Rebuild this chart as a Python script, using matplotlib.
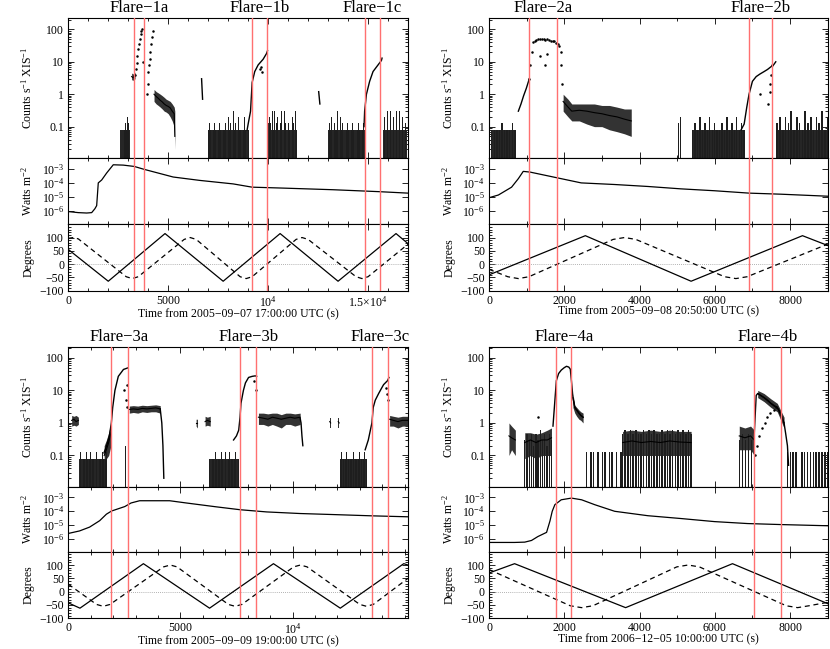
import numpy as np
import matplotlib
matplotlib.use("Agg")
import matplotlib.pyplot as plt
from matplotlib.ticker import FixedLocator, FixedFormatter, MultipleLocator, LogLocator, NullFormatter
import matplotlib.transforms as mtransforms

plt.rcParams['font.family'] = ['Liberation Serif', 'DejaVu Serif']
plt.rcParams['mathtext.fontset'] = 'custom'
plt.rcParams['mathtext.rm'] = 'Liberation Serif'
plt.rcParams['mathtext.it'] = 'Liberation Serif:italic'
plt.rcParams['mathtext.bf'] = 'Liberation Serif:bold'
plt.rcParams['axes.unicode_minus'] = True

# ---------------- Quadrant 1 ----------------
q1_xmax = 17000
q1_xlabel = "Time from 2005\u221209\u221207 17:00:00 UTC (s)"
q1_xticks = [0, 5000, 10000, 15000]
q1_xticklabels = ["0", "5000", "10$^4$", "1.5\u00d710$^4$"]
q1_flare_lines = [3300, 3800, 9200, 9920, 14870, 15580]
q1_flare_names = ["Flare\u22121a", "Flare\u22121b", "Flare\u22121c"]
q1_bg_start = [2580, 7000, 10000, 13000, 15750]
q1_bg_end = [3080, 9000, 11420, 14830, 16950]
q1_bg_base = [0.08, 0.08, 0.08, 0.08, 0.08]
q1_bg_levels = ["1111121321", "121312141213112131214121311213121",
                "2324142312414232143241", "1213121141312131214121311213121",
                "23142413241423124"]
q1_curve_t = [[6670, 6720], [12530, 12590],
              [8950, 9000, 9120, 9200, 9330, 9500, 9750, 9920, 9970],
              [14800, 14830, 14920, 15080, 15250, 15500, 15670, 15700]]
q1_curve_c = [[3.0, 0.7], [1.2, 0.5],
              [0.08, 0.12, 0.3, 2.3, 5, 8, 12, 18, 22],
              [0.1, 0.3, 1, 2.5, 5, 8, 11, 13]]
q1_dot_t = [3340, 3380, 3420, 3460, 3500, 3540, 3580, 3620, 3660, 3700, 3750,
            3950, 3965, 3990, 4030, 4070, 4110, 4150, 4190, 4220, 9600, 9650, 9700]
q1_dot_c = [4, 6, 9, 15, 25, 35, 50, 70, 90, 100, 10,
            1, 2, 5, 8, 12, 20, 35, 60, 90, 6, 7, 5]
q1_band_t = [[3170, 3250, 3340],
             [4290, 4400, 4500, 4600, 4700, 4800, 4900, 5000, 5100, 5200, 5300, 5330]]
q1_band_mid = [[3.5, 3.2, 4.0],
               [1.0, 0.85, 0.75, 0.65, 0.58, 0.5, 0.45, 0.42, 0.38, 0.3, 0.25, 0.05]]
q1_band_lo = [[2.8, 2.7, 3.0],
              [0.6, 0.5, 0.45, 0.4, 0.35, 0.3, 0.28, 0.25, 0.2, 0.15, 0.1, 0.02]]
q1_band_hi = [[4.5, 4.2, 4.8],
              [1.4, 1.2, 1.1, 1.0, 0.9, 0.8, 0.7, 0.65, 0.6, 0.5, 0.4, 0.3]]
q1_w_t = [0, 500, 920, 1170, 1330, 1420, 1500, 1670, 1920, 2250, 2750, 3300, 3800,
          5250, 6580, 8250, 9200, 10750, 13250, 15580, 17000]
q1_w_v = [9.5e-7, 8e-7, 7.5e-7, 8e-7, 1.5e-6, 2.5e-6, 1e-4, 1.6e-4, 5e-4, 1.9e-3, 1.8e-3,
          1.45e-3, 9e-4, 2.6e-4, 1.5e-4, 8.5e-5, 5e-5, 4.3e-5, 3.3e-5, 2.4e-5, 1.9e-5]
q1_sol_t = [0, 2000, 4840, 7750, 10600, 13500, 16400, 17000]
q1_sol_v = [55, -65, 115, -65, 115, -65, 115, 77]
q1_das_t = [0, 250, 500, 2900, 3200, 3500, 5800, 6100, 6400, 8600, 8900, 9200,
            11400, 11700, 12000, 14400, 14700, 15000, 17000]
q1_das_v = [97, 100, 95, -48, -55, -48, 93, 100, 93, -48, -55, -48,
            93, 100, 93, -48, -55, -48, 75]

# ---------------- Quadrant 2 ----------------
q2_xmax = 9000
q2_xlabel = "Time from 2005\u221209\u221208 20:50:00 UTC (s)"
q2_xticks = [0, 2000, 4000, 6000, 8000]
q2_xticklabels = ["0", "2000", "4000", "6000", "8000"]
q2_flare_lines = [1070, 1820, 6910, 7530]
q2_flare_names = ["Flare\u22122a", "Flare\u22122b"]
q2_bg_start = [70, 5030, 5410, 7660]
q2_bg_end = [690, 5090, 6780, 9000]
q2_bg_base = [0.08, 0.0, 0.08, 0.08]
q2_bg_levels = ["1111211121", "23", "1213121312112131213121", "2313241321423132413"]
q2_curve_t = [[780, 850, 920, 990, 1050, 1070],
              [6700, 6780, 6850, 6910, 7000, 7100, 7200, 7310, 7400, 7490, 7560, 7620]]
q2_curve_c = [[0.3, 0.5, 0.9, 1.5, 2.5, 3],
              [0.08, 0.12, 0.4, 1.0, 2.5, 3.5, 4.2, 5, 5.8, 7, 8, 10]]
q2_dot_t = [1070, 1100, 1130, 1170, 1210, 1250, 1300, 1350, 1400, 1450, 1500, 1550, 1600,
            1650, 1700, 1740, 1790, 1830, 1870, 1900, 1920, 1940, 1350, 1500, 1550,
            7200, 7420, 7460, 7480, 7500, 7520]
q2_dot_c = [3, 8, 20, 40, 45, 48, 50, 50, 52, 50, 48, 50, 47,
            45, 45, 43, 38, 35, 30, 20, 8, 2, 15, 8, 17,
            1.0, 0.5, 1.2, 2, 4, 8]
q2_band_t = [[1970, 2100, 2200, 2400, 2600, 2800, 3000, 3200, 3400, 3600, 3780]]
q2_band_mid = [[0.6, 0.4, 0.3, 0.32, 0.3, 0.27, 0.25, 0.22, 0.2, 0.17, 0.15]]
q2_band_lo = [[0.3, 0.2, 0.15, 0.15, 0.12, 0.1, 0.1, 0.08, 0.07, 0.06, 0.05]]
q2_band_hi = [[1.0, 0.7, 0.5, 0.5, 0.5, 0.5, 0.45, 0.45, 0.4, 0.35, 0.35]]
q2_w_t = [0, 250, 600, 780, 910, 1090, 1840, 2450, 3340, 4220, 5100, 5990, 6910, 7750, 9000]
q2_w_v = [9e-6, 1.4e-5, 5e-5, 2e-4, 6.5e-4, 5.8e-4, 2.2e-4, 1.0e-4, 7.7e-5, 5.6e-5,
          3.8e-5, 2.8e-5, 1.9e-5, 1.6e-5, 1.15e-5]
q2_sol_t = [0, 2560, 5370, 8330, 9000]
q2_sol_v = [-41, 107, -65, 107, 70]
q2_das_t = [0, 500, 780, 1060, 3300, 3600, 3900, 6260, 6560, 6860, 9000]
q2_das_v = [-20, -48, -55, -48, 93, 100, 93, -48, -55, -48, 75]

# ---------------- Quadrant 3 ----------------
q3_xmax = 15150
q3_xlabel = "Time from 2005\u221209\u221209 19:00:00 UTC (s)"
q3_xticks = [0, 5000, 10000]
q3_xticklabels = ["0", "5000", "10$^4$"]
q3_flare_lines = [1920, 2650, 7660, 8380, 13540, 14240]
q3_flare_names = ["Flare\u22123a", "Flare\u22123b", "Flare\u22123c"]
q3_bg_start = [480, 2560, 6300, 12130]
q3_bg_end = [1710, 2600, 7590, 13300]
q3_bg_base = [0.08, 0.0, 0.08, 0.08]
q3_bg_levels = ["12111211211121112112", "3", "121121112112112111211", "12112111211121121"]
q3_curve_t = [[1590, 1710, 1830, 1920, 1980, 2080, 2230, 2460, 2650],
              [4100, 4170, 4220, 4260],
              [7370, 7500, 7600, 7660, 7700, 7810, 7900, 8040, 8200, 8340, 8400],
              [10340, 10380, 10420, 10460],
              [13240, 13380, 13540, 13600, 13690, 13840, 13950, 14060, 14240, 14300]]
q3_curve_c = [[0.12, 0.2, 0.4, 1, 3, 10, 27, 44, 49],
              [2.7, 1, 0.2, 0.02],
              [0.3, 0.4, 0.6, 1.5, 4, 10, 17, 25, 27, 28, 27],
              [1.4, 1, 0.4, 0.2],
              [0.15, 0.3, 1, 3, 5, 8, 11, 15, 20, 25]]
q3_dot_t = [2500, 2560, 2600, 2640, 8300, 8350, 14150, 14200, 14250]
q3_dot_c = [10, 5, 3, 15, 20, 10, 12, 8, 5]
q3_band_t = [[150, 250, 350, 450], [1600, 1700, 1800, 1900],
             [2720, 2900, 3100, 3300, 3500, 3700, 3900, 4100],
             [5700, 5760], [6100, 6200, 6330],
             [8480, 8700, 8900, 9100, 9300, 9500, 9700, 9900, 10100, 10340],
             [11660, 11700], [12040, 12080],
             [14330, 14500, 14700, 14900, 15150]]
q3_band_mid = [[1.2, 1.3, 1.1, 1.2], [0.1, 0.15, 0.25, 0.5],
               [2.6, 2.7, 2.6, 2.8, 2.7, 2.8, 2.9, 2.7],
               [1.0, 1.0], [1.1, 1.2, 1.1],
               [1.5, 1.4, 1.3, 1.5, 1.4, 1.3, 1.4, 1.5, 1.4, 1.5],
               [1.1, 1.0], [1.1, 1.0],
               [1.3, 1.2, 1.1, 1.2, 1.2]]
q3_band_lo = [[0.8, 0.85, 0.8, 0.9], [0.06, 0.08, 0.1, 0.2],
              [2.0, 2.1, 2.0, 2.2, 2.1, 2.2, 2.2, 2.0],
              [0.8, 0.7], [0.8, 0.85, 0.8],
              [0.9, 0.9, 0.8, 0.9, 0.8, 0.7, 0.9, 0.9, 0.8, 0.9],
              [0.7, 0.7], [0.7, 0.7],
              [0.8, 0.8, 0.7, 0.8, 0.8]]
q3_band_hi = [[1.7, 1.6, 1.7, 1.5], [0.2, 0.3, 0.5, 1.0],
              [3.3, 3.4, 3.3, 3.5, 3.4, 3.5, 3.6, 3.4],
              [1.3, 1.3], [1.6, 1.5, 1.6],
              [2.0, 2.0, 1.9, 2.0, 2.0, 1.8, 2.0, 2.0, 1.9, 2.0],
              [1.4, 1.4], [1.4, 1.4],
              [1.7, 1.6, 1.5, 1.6, 1.6]]
q3_w_t = [0, 500, 950, 1400, 1700, 1930, 2520, 2800, 3180, 4520, 5260, 6600, 7660,
          8850, 10340, 11830, 13540, 15150]
q3_w_v = [2.5e-6, 3.8e-6, 7.2e-6, 2.1e-5, 6.2e-5, 1.05e-4, 2.2e-4, 4e-4, 5.8e-4, 5.8e-4,
          4e-4, 2.1e-4, 1.3e-4, 9e-5, 6.9e-5, 5.8e-5, 4.7e-5, 4e-5]
q3_sol_t = [0, 520, 3350, 6300, 9150, 12130, 14960, 15150]
q3_sol_v = [-42, -62, 105, -62, 105, -62, 105, 100]
q3_das_t = [0, 1260, 1560, 1860, 4250, 4550, 4850, 7140, 7440, 7740, 10050, 10350, 10650,
            13000, 13300, 13600, 15150]
q3_das_v = [28, -48, -55, -48, 93, 100, 93, -48, -55, -48, 93, 100, 93, -48, -55, -48, 50]

# ---------------- Quadrant 4 ----------------
q4_xmax = 9000
q4_xlabel = "Time from 2006\u221212\u221205 10:00:00 UTC (s)"
q4_xticks = [0, 2000, 4000, 6000, 8000]
q4_xticklabels = ["0", "2000", "4000", "6000", "8000"]
q4_flare_lines = [1790, 2190, 7050, 7770]
q4_flare_names = ["Flare\u22124a", "Flare\u22124b"]
q4_bg_start = [950, 2590, 3550, 6650, 7930]
q4_bg_end = [1660, 3510, 5370, 7050, 9000]
q4_bg_base = [0.0, 0.0, 0.0, 0.0, 0.0]
q4_bg_levels = ["4545354645354", "2022020220220202", "565656556565655656565656565",
                "454545", "222202222222222"]
q4_curve_t = [[1700, 1790, 1850, 1920, 2000, 2060, 2120, 2160, 2190, 2230, 2280, 2330,
               2390, 2440, 2500],
              [7050, 7100, 7140, 7220, 7310, 7400, 7490, 7580, 7660, 7750, 7840, 7880,
               7930, 7960]]
q4_curve_c = [[0.8, 20, 33, 42, 50, 55, 52, 45, 20, 6, 3, 2.5, 2, 1.7, 1.5],
              [0.5, 7, 8, 7, 6, 5, 4, 3.3, 3, 2, 1, 0.5, 0.2, 0.05]]
q4_dot_t = [1300, 7080, 7120, 7180, 7250, 7330, 7400, 7480, 7560, 7620]
q4_dot_c = [1.5, 0.1, 0.2, 0.4, 0.7, 1, 1.5, 2, 2.5, 3]
q4_band_t = [[530, 600, 700], [950, 1100, 1250, 1400, 1550, 1660],
             [2230, 2280, 2330, 2390, 2440, 2500],
             [3550, 3800, 4050, 4300, 4550, 4800, 5050, 5370],
             [6650, 6800, 6950, 7050], [7140, 7310, 7490, 7660, 7840]]
q4_band_mid = [[0.4, 0.35, 0.3], [0.25, 0.3, 0.25, 0.3, 0.3, 0.35],
               [6, 3, 2.5, 2, 1.7, 1.5],
               [0.25, 0.28, 0.25, 0.27, 0.25, 0.28, 0.26, 0.25],
               [0.4, 0.35, 0.4, 0.3], [8, 6, 4, 3, 1]]
q4_band_lo = [[0.1, 0.15, 0.1], [0.08, 0.1, 0.08, 0.1, 0.1, 0.1],
              [3, 2, 1.6, 1.3, 1.2, 1.0],
              [0.1, 0.1, 0.1, 0.1, 0.1, 0.1, 0.1, 0.1],
              [0.15, 0.15, 0.15, 0.1], [6, 4.5, 3, 2.2, 0.7]]
q4_band_hi = [[1.0, 0.8, 0.6], [0.5, 0.5, 0.45, 0.5, 0.6, 0.7],
              [8, 3.5, 3, 2.5, 2.2, 2.0],
              [0.55, 0.6, 0.55, 0.6, 0.55, 0.6, 0.55, 0.55],
              [0.8, 0.7, 0.8, 0.6], [10, 8, 5.5, 4, 1.5]]
q4_w_t = [0, 680, 950, 1130, 1300, 1530, 1620, 1680, 1750, 1920, 2190, 2460, 2810, 3340,
          4220, 5100, 5990, 6870, 7750, 9000]
q4_w_v = [5.6e-7, 5.6e-7, 5.9e-7, 7.8e-7, 1.5e-6, 3e-6, 2e-5, 1e-4, 3e-4, 6.8e-4, 9e-4,
          6.8e-4, 3e-4, 1e-4, 4.8e-5, 3e-5, 1.8e-5, 1.3e-5, 1.1e-5, 9e-6]
q4_sol_t = [0, 680, 3630, 6470, 9000]
q4_sol_v = [70, 105, -60, 105, -45]
q4_das_t = [0, 2160, 2460, 2760, 4990, 5290, 5590, 7900, 8200, 8500, 9000]
q4_das_v = [83, -53, -60, -53, 93, 100, 93, -53, -60, -53, -40]

# ---------------- layout / drawing ----------------
W, H = 830, 649
fig = plt.figure(figsize=(W / 100, H / 100), dpi=100)

LEV = {'1': 0.08, '2': 0.13, '3': 0.2, '4': 0.3, '5': 0.45, '6': 0.6}
C_YLIM = (0.011, 220)
W_YLIM = (1.2e-7, 6e-3)
D_YLIM = (-100, 150)
RED = '#ff7070'
TICK_FS = 8.5
LAB_FS = 8.5
YLAB_X = -0.1


def add_ax(l, r, t, b):
    return fig.add_axes([l / W, 1 - b / H, (r - l) / W, (b - t) / H])


def style(ax, xmax, xticks):
    ax.set_xlim(0, xmax)
    ax.xaxis.set_major_locator(FixedLocator(xticks))
    ax.xaxis.set_minor_locator(MultipleLocator(1000))
    ax.tick_params(which='both', direction='in', top=True, right=True,
                   labelsize=TICK_FS, width=0.6, pad=3)
    ax.tick_params(which='major', length=4)
    ax.tick_params(which='minor', length=2)
    for s in ax.spines.values():
        s.set_linewidth(0.8)


def draw(q, xpix, ypix):
    l, r = xpix
    t0, b1, b2, b3 = ypix
    axc = add_ax(l, r, t0, b1)
    axw = add_ax(l, r, b1, b2)
    axd = add_ax(l, r, b2, b3)
    for ax in (axc, axw, axd):
        style(ax, q['xmax'], q['xticks'])
        for xv in q['lines']:
            ax.axvline(xv, color=RED, lw=1.0, zorder=5)

    # counts panel
    axc.set_yscale('log')
    for bt, lo, mid, hi in zip(q['band_t'], q['band_lo'], q['band_mid'], q['band_hi']):
        axc.fill_between(bt, lo, hi, color='#333333', lw=0, zorder=2)
        axc.plot(bt, mid, color='k', lw=0.8, zorder=3)
    for s, e, base, lev in zip(q['bg_s'], q['bg_e'], q['bg_b'], q['bg_l']):
        ts = np.linspace(s, e, len(lev))
        wbin = (e - s) / max(len(lev), 1)
        if base > 0:
            axc.fill_between([s, e], [C_YLIM[0], C_YLIM[0]], [base, base],
                             color='#262626', lw=0, zorder=2)
        keep = [(tt, LEV[ch]) for tt, ch in zip(ts, lev) if ch in LEV]
        tops = np.array([k[1] for k in keep])
        axc.bar([k[0] for k in keep], tops - C_YLIM[0], bottom=C_YLIM[0],
                width=wbin * 0.6, color='#1e1e1e', lw=0, zorder=2)
    for ct, cc in zip(q['curve_t'], q['curve_c']):
        axc.plot(ct, cc, color='k', lw=1.0, zorder=3)
    axc.plot(q['dot_t'], q['dot_c'], '.', color='k', ms=1.6, zorder=3)
    axc.set_ylim(*C_YLIM)
    axc.yaxis.set_major_locator(FixedLocator([0.1, 1, 10, 100]))
    axc.yaxis.set_major_formatter(FixedFormatter(['0.1', '1', '10', '100']))
    axc.yaxis.set_minor_locator(LogLocator(base=10, subs=np.arange(2, 10)))
    axc.yaxis.set_minor_formatter(NullFormatter())
    axc.set_xticklabels([])
    axc.set_ylabel("Counts s$^{-1}$ XIS$^{-1}$", fontsize=LAB_FS)
    axc.yaxis.set_label_coords(YLAB_X, 0.5)
    trans = mtransforms.blended_transform_factory(axc.transData, axc.transAxes)
    for i, name in enumerate(q['names']):
        xc = 0.5 * (q['lines'][2 * i] + q['lines'][2 * i + 1])
        axc.annotate(name, (xc, 1.0), xycoords=trans, xytext=(0, 1.5),
                     textcoords='offset points', ha='center', va='bottom',
                     fontsize=12, annotation_clip=False)

    # watts panel
    axw.set_yscale('log')
    axw.plot(q['w_t'], q['w_v'], color='k', lw=0.9)
    axw.set_ylim(*W_YLIM)
    axw.yaxis.set_major_locator(FixedLocator([1e-6, 1e-5, 1e-4, 1e-3]))
    axw.yaxis.set_major_formatter(FixedFormatter(['10$^{-6}$', '10$^{-5}$',
                                                  '10$^{-4}$', '10$^{-3}$']))
    axw.yaxis.set_minor_locator(LogLocator(base=10, subs=np.arange(2, 10)))
    axw.yaxis.set_minor_formatter(NullFormatter())
    axw.set_xticklabels([])
    axw.set_ylabel("Watts m$^{-2}$", fontsize=LAB_FS)
    axw.yaxis.set_label_coords(YLAB_X, 0.5)

    # degrees panel
    axd.axhline(0, color='#999999', lw=0.6, ls=(0, (1, 1.5)))
    axd.plot(q['s_t'], q['s_v'], color='k', lw=0.9)
    axd.plot(q['d_t'], q['d_v'], color='k', lw=0.9, ls=(0, (4, 3)))
    axd.set_ylim(*D_YLIM)
    axd.yaxis.set_major_locator(FixedLocator([-100, -50, 0, 50, 100]))
    axd.yaxis.set_major_formatter(FixedFormatter(['\u2212100', '\u221250', '0', '50', '100']))
    axd.yaxis.set_minor_locator(MultipleLocator(10))
    axd.xaxis.set_major_formatter(FixedFormatter(q['xticklabels']))
    axd.set_ylabel("Degrees", fontsize=LAB_FS)
    axd.yaxis.set_label_coords(YLAB_X, 0.5)
    axd.set_xlabel(q['xlabel'], fontsize=LAB_FS, labelpad=-1)


def pack(p):
    g = globals()
    return dict(xmax=g[p + 'xmax'], xlabel=g[p + 'xlabel'], xticks=g[p + 'xticks'],
                xticklabels=g[p + 'xticklabels'], lines=g[p + 'flare_lines'],
                names=g[p + 'flare_names'], bg_s=g[p + 'bg_start'], bg_e=g[p + 'bg_end'],
                bg_b=g[p + 'bg_base'],
                bg_l=g[p + 'bg_levels'], curve_t=g[p + 'curve_t'], curve_c=g[p + 'curve_c'],
                dot_t=g[p + 'dot_t'], dot_c=g[p + 'dot_c'], band_t=g[p + 'band_t'],
                band_mid=g[p + 'band_mid'], band_lo=g[p + 'band_lo'],
                band_hi=g[p + 'band_hi'], w_t=g[p + 'w_t'], w_v=g[p + 'w_v'],
                s_t=g[p + 'sol_t'], s_v=g[p + 'sol_v'], d_t=g[p + 'das_t'],
                d_v=g[p + 'das_v'])


LEFT_X = (68.3, 408.0)
RIGHT_X = (489.0, 827.7)
TOP_Y = (18.3, 157.7, 224.3, 290.5)
BOT_Y = (346.7, 486.7, 551.7, 618.3)

draw(pack('q1_'), LEFT_X, TOP_Y)
draw(pack('q2_'), RIGHT_X, TOP_Y)
draw(pack('q3_'), LEFT_X, BOT_Y)
draw(pack('q4_'), RIGHT_X, BOT_Y)

fig.savefig('out.png', dpi=100)
